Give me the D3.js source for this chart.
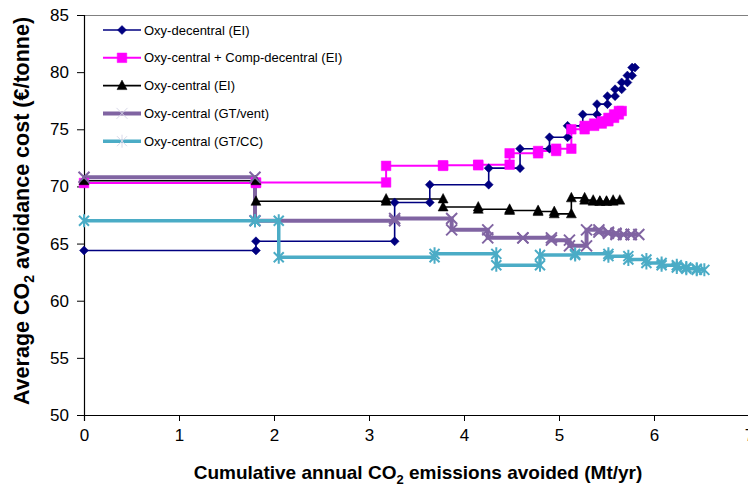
<!DOCTYPE html>
<html>
<head>
<meta charset="utf-8">
<script src="https://cdn.jsdelivr.net/npm/d3@7"></script>
<style>
  body { margin: 0; background: #fff; }
  svg { display: block; font-family: "Liberation Sans", Arial, sans-serif; }
</style>
</head>
<body>
<svg width="748" height="489"></svg>
<script>
// step boundaries (cumulative Mt/yr) and step cost (€/tonne) for every series
const navyX = [0, 1.81, 3.27, 3.64, 4.26, 4.59, 4.90, 5.09, 5.25, 5.40, 5.51, 5.59, 5.66, 5.72, 5.77, 5.80];
const navyCost = [64.4, 65.2, 68.6, 70.15, 71.6, 73.3, 74.3, 75.3, 76.3, 77.2, 77.9, 78.5, 79.1, 79.7, 80.4];

const magentaX = [0, 1.81, 3.18, 3.78, 4.15, 4.48, 4.78, 4.97, 5.13, 5.27, 5.37, 5.45, 5.52, 5.58, 5.63, 5.66];
const magentaCost = [70.3, 70.35, 71.8, 71.85, 71.9, 72.9, 73.1, 73.3, 75.0, 75.3, 75.5, 75.7, 76.0, 76.3, 76.6];

const blackX = [0, 1.81, 3.18, 3.78, 4.15, 4.48, 4.78, 4.95, 5.13, 5.27, 5.36, 5.43, 5.50, 5.57, 5.64];
const blackCost = [70.5, 68.7, 68.9, 68.2, 68.0, 67.9, 67.8, 67.6, 69.0, 68.8, 68.7, 68.7, 68.7, 68.8];

const purpleX = [0, 1.80, 3.27, 3.87, 4.25, 4.62, 4.92, 5.11, 5.29, 5.42, 5.52, 5.60, 5.68, 5.76, 5.84];
const purpleCost = [70.8, 67.0, 67.2, 66.2, 65.5, 65.5, 65.3, 64.8, 66.2, 66.0, 65.9, 65.8, 65.8, 65.8];

const cyanX = [0, 1.80, 2.05, 3.69, 4.34, 4.80, 5.17, 5.52, 5.73, 5.92, 6.08, 6.24, 6.34, 6.45, 6.53];
const cyanCost = [67.0, 67.0, 63.8, 64.1, 63.1, 64.0, 64.1, 63.9, 63.6, 63.3, 63.1, 62.9, 62.8, 62.7];

const seriesNames = [
    "Oxy-decentral (EI)",
    "Oxy-central + Comp-decentral (EI)",
    "Oxy-central (EI)",
    "Oxy-central (GT/vent)",
    "Oxy-central (GT/CC)"
];
const xTicks = [0, 1, 2, 3, 4, 5, 6, 7];
const yTicks = [50, 55, 60, 65, 70, 75, 80, 85];

// marker shapes
const shapes = {
    diamond: "M0,-4.5L4.5,0L0,4.5L-4.5,0Z",
    square: "M-4.8,-4.8H4.8V4.8H-4.8Z",
    triangle: "M0,-5.5L5,4L-5,4Z",
    cross: "M-5.5,-5.5L5.5,5.5M-5.5,5.5L5.5,-5.5",
    star: "M-5,-5L5,5M-5,5L5,-5M0,-6.5L0,6.5"
};

const series = [
    { x: navyX, cost: navyCost, color: "#000080", width: 1.6, shape: "diamond", fill: true },
    { x: magentaX, cost: magentaCost, color: "#FF00FF", width: 2, shape: "square", fill: true },
    { x: blackX, cost: blackCost, color: "#000000", width: 1.6, shape: "triangle", fill: true },
    { x: purpleX, cost: purpleCost, color: "#8064A2", width: 4, shape: "cross", fill: false },
    { x: cyanX, cost: cyanCost, color: "#4BACC6", width: 3.5, shape: "star", fill: false }
];

// turn boundaries + costs into the step points
function stepPoints(xs, costs) {
    let pts = [];
    costs.forEach((c, i) => {
        pts.push([xs[i], c]);
        pts.push([xs[i + 1], c]);
    });
    return pts;
}

const svg = d3.select("svg");
const margin = { left: 84, top: 15 };
const plotRight = 749;

const x = d3.scaleLinear().domain([0, 7]).range([margin.left, plotRight]);
const y = d3.scaleLinear().domain([50, 85]).range([415, margin.top]);

// plot border (top)
svg.append("line")
    .attr("x1", margin.left).attr("x2", 748)
    .attr("y1", margin.top + 0.5).attr("y2", margin.top + 0.5)
    .attr("stroke", "#808080").attr("stroke-width", 1);

// axes
const xAxis = svg.append("g")
    .attr("transform", "translate(0,415)")
    .call(d3.axisBottom(x).tickValues(xTicks).tickSize(6).tickPadding(8).tickFormat(d3.format("d")));
const yAxis = svg.append("g")
    .attr("transform", `translate(${margin.left},0)`)
    .call(d3.axisLeft(y).tickValues(yTicks).tickSize(7).tickPadding(8).tickFormat(d3.format("d")));

[xAxis, yAxis].forEach(g => {
    g.select(".domain").attr("stroke", "#000").attr("stroke-width", 1.2);
    g.selectAll(".tick line").attr("stroke", "#000");
    g.selectAll("text").attr("font-size", 17).attr("fill", "#000")
        .attr("font-family", "Liberation Sans, Arial, sans-serif");
});

// axis titles
const xTitle = svg.append("text")
    .attr("x", 418).attr("y", 479)
    .attr("text-anchor", "middle")
    .attr("font-size", 19).attr("font-weight", "bold");
xTitle.append("tspan").text("Cumulative annual CO");
xTitle.append("tspan").text("2").attr("font-size", 13).attr("dy", 5);
xTitle.append("tspan").text(" emissions avoided (Mt/yr)").attr("dy", -5);

const yTitle = svg.append("text")
    .attr("transform", "translate(29,211) rotate(-90)")
    .attr("text-anchor", "middle")
    .attr("font-size", 21.5).attr("font-weight", "bold");
yTitle.append("tspan").text("Average CO");
yTitle.append("tspan").text("2").attr("font-size", 14).attr("dy", 5);
yTitle.append("tspan").text(" avoidance cost (€/tonne)").attr("dy", -5);

// series lines
const line = d3.line().x(d => x(d[0])).y(d => y(d[1]));
const plot = svg.append("g");
series.forEach(s => {
    plot.append("path")
        .datum(stepPoints(s.x, s.cost))
        .attr("d", line)
        .attr("fill", "none")
        .attr("stroke", s.color)
        .attr("stroke-width", s.width)
        .attr("stroke-linejoin", "miter");
});

// markers on top
series.forEach(s => {
    plot.append("g").selectAll("path")
        .data(stepPoints(s.x, s.cost))
        .join("path")
        .attr("transform", d => `translate(${x(d[0])},${y(d[1])})`)
        .attr("d", shapes[s.shape])
        .attr("fill", s.fill ? s.color : "none")
        .attr("stroke", s.color)
        .attr("stroke-width", s.fill ? 0.5 : 2);
});

// legend
const legend = svg.append("g");
series.forEach((s, i) => {
    const ly = 30 + i * 27.8;
    legend.append("line")
        .attr("x1", 103).attr("x2", 141)
        .attr("y1", ly).attr("y2", ly)
        .attr("stroke", s.color).attr("stroke-width", s.width);
    legend.append("path")
        .attr("transform", `translate(122,${ly})`)
        .attr("d", shapes[s.shape])
        .attr("fill", s.fill ? s.color : "none")
        .attr("stroke", s.fill ? s.color : "#d8d8e8")
        .attr("stroke-width", s.fill ? 0.5 : 1);
    legend.append("text")
        .attr("x", 144).attr("y", ly + 4.5)
        .attr("font-size", 13)
        .text(seriesNames[i]);
});
</script>
</body>
</html>
